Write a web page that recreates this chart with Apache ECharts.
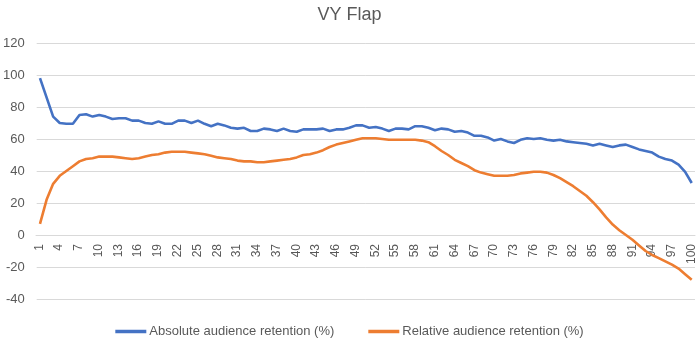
<!DOCTYPE html>
<html>
<head>
<meta charset="utf-8">
<script src="https://cdn.jsdelivr.net/npm/echarts@6/dist/echarts.min.js"></script>
<style>html,body{margin:0;padding:0;background:#fff}#c{width:699px;height:339px}</style>
</head>
<body>
<div id="c"></div>
<script>
var titleText = "VY Flap";
var seriesNames = ["Absolute audience retention (%)", "Relative audience retention (%)"];
var categories = [];
for (var i = 1; i <= 100; i++) categories.push(String(i));
var absoluteRetention = [
 98, 86, 74, 70, 69.5, 69.5, 75, 75.5, 74, 75,
 74, 72.5, 73, 73, 71.5, 71.5, 70, 69.5, 71, 69.5,
 69.5, 71.5, 71.5, 70, 71.5, 69.5, 68, 69.5, 68.5, 67,
 66.5, 67, 65, 65, 66.5, 66, 65, 66.5, 65, 64.5,
 66, 66, 66, 66.5, 65, 66, 66, 67, 68.5, 68.5,
 67, 67.5, 66.5, 65, 66.5, 66.5, 66, 68, 68, 67,
 65.5, 66.5, 66, 64.5, 65, 64, 62, 62, 61, 59,
 60, 58.5, 57.5, 59.5, 60.5, 60, 60.5, 59.5, 59, 59.5,
 58.5, 58, 57.5, 57, 56, 57, 56, 55, 56, 56.5,
 55, 53.5, 52.5, 51.5, 49, 47.5, 46.5, 44, 39.5, 32.5
];
var relativeRetention = [
 7, 22, 32, 37, 40, 43, 46, 47.5, 48, 49,
 49, 49, 48.5, 48, 47.5, 48, 49, 50, 50.5, 51.5,
 52, 52, 52, 51.5, 51, 50.5, 49.5, 48.5, 48, 47.5,
 46.5, 46, 46, 45.5, 45.5, 46, 46.5, 47, 47.5, 48.5,
 50, 50.5, 51.5, 53, 55, 56.5, 57.5, 58.5, 59.5, 60.5,
 60.5, 60.5, 60, 59.5, 59.5, 59.5, 59.5, 59.5, 59, 58,
 55.5, 52.5, 50, 47, 45, 43, 40.5, 39, 38, 37,
 37, 37, 37.5, 38.5, 39, 39.5, 39.5, 39, 37.5, 35.5,
 33, 30.5, 27.5, 24.5, 20.5, 16, 11, 6.5, 3, 0,
 -3, -6.5, -10, -12.5, -14.5, -16.5, -18.5, -21, -24.5, -28
];
var yMin = -40, yMax = 120, yStep = 20;

var chart = echarts.init(document.getElementById('c'));
var textColor = '#595959';
var font = 'Liberation Sans, Arial, sans-serif';
// grid 0: full plot area; grid 1: same area from top down to value 0, to place category labels at y = 0
var plotTop = 43, plotBottom = 40, plotH = 339 - plotTop - plotBottom;
var zeroFromTop = plotH * (yMax - 0) / (yMax - yMin);
chart.setOption({
  animation: false,
  title: {
    text: titleText, left: 'center', top: 1,
    textStyle: { fontSize: 18, fontWeight: 'normal', color: textColor, fontFamily: font }
  },
  legend: {
    bottom: -4, left: 'center', itemGap: 34, itemWidth: 31, itemHeight: 3.5, icon: 'rect',
    textStyle: { fontSize: 13, color: textColor, fontFamily: font, padding: [0, 0, 0, -2] },
    data: seriesNames
  },
  grid: [
    { left: 36, right: 4, top: plotTop, bottom: plotBottom },
    { left: 36, right: 4, top: plotTop, height: zeroFromTop }
  ],
  xAxis: [
    { type: 'category', gridIndex: 0, data: categories, boundaryGap: true,
      axisLine: { show: false }, axisTick: { show: false }, axisLabel: { show: false } },
    { type: 'category', gridIndex: 1, data: categories, boundaryGap: true, position: 'bottom',
      axisLine: { show: true, onZero: false, lineStyle: { color: '#d9d9d9' } },
      axisTick: { show: false },
      axisLabel: { interval: 2, rotate: 90, fontSize: 12, color: textColor, fontFamily: font, margin: 9 } }
  ],
  yAxis: [
    { type: 'value', gridIndex: 0, min: yMin, max: yMax, interval: yStep,
      axisLine: { show: false }, axisTick: { show: false },
      axisLabel: { fontSize: 13, color: textColor, fontFamily: font, margin: 12 },
      splitLine: { lineStyle: { color: '#d9d9d9', width: 1 } } },
    { type: 'value', gridIndex: 1, min: 0, max: 1, show: false }
  ],
  series: [
    { name: seriesNames[0], type: 'line', data: absoluteRetention, symbol: 'none',
      itemStyle: { color: '#4472C4' }, lineStyle: { color: '#4472C4', width: 2.6 } },
    { name: seriesNames[1], type: 'line', data: relativeRetention, symbol: 'none',
      itemStyle: { color: '#ED7D31' }, lineStyle: { color: '#ED7D31', width: 2.6 } }
  ]
});
</script>
</body>
</html>
